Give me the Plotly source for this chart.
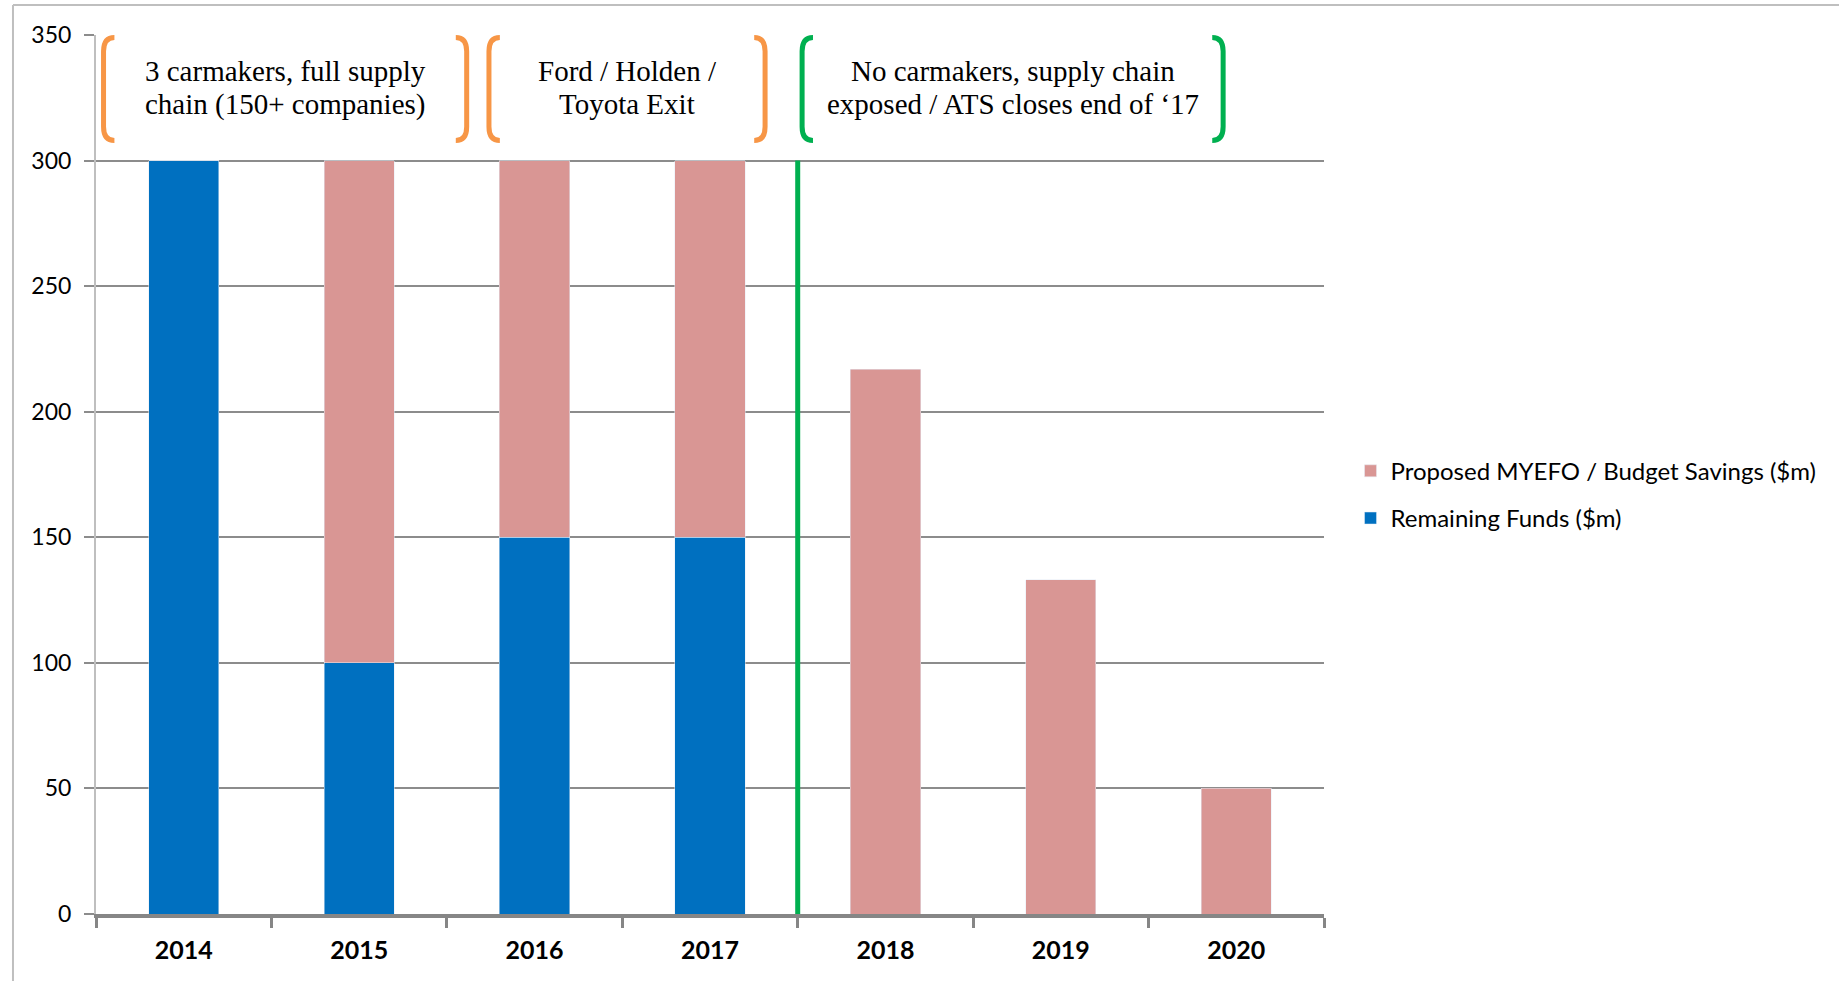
import plotly.graph_objects as go

years = ["2014", "2015", "2016", "2017", "2018", "2019", "2020"]
remaining = [300, 100, 150, 150, 0, 0, 0]
proposed = [0, 200, 150, 150, 217, 133, 50]
series_names = ["Remaining Funds ($m)", "Proposed MYEFO / Budget Savings ($m)"]
colors = ["#0070C0", "#D99694"]

# annotation boxes: (left x, right x, label lines, colour)
brackets = [
    (-0.457, 1.613, ["3 carmakers, full supply", "chain (150+ companies)"], "#F79646"),
    (1.74, 3.314, ["Ford / Holden /", "Toyota Exit"], "#F79646"),
    (3.525, 5.925, ["No carmakers, supply chain", "exposed / ATS closes end of \u201817"], "#00B050"),
]
bracket_y = (308, 349)
label_line_y = (335.5, 322.4)
divider_x = 3.5
divider_top = 300

fig = go.Figure()
fig.add_trace(go.Bar(x=years, y=remaining, name=series_names[0], marker_color=colors[0],
                     width=0.4, legendgroup="a", legendrank=2))
fig.add_trace(go.Bar(x=years, y=proposed, name=series_names[1], marker_color=colors[1],
                     width=0.4, legendgroup="b", legendrank=1))

shapes = []
dx, dy = 0.062, 5.5
y0, y1 = bracket_y
for xl, xr, lines, col in brackets:
    for x, s in ((xl, 1), (xr, -1)):
        path = (f"M {x + s*dx},{y1} Q {x},{y1} {x},{y1 - dy} L {x},{y0 + dy} "
                f"Q {x},{y0} {x + s*dx},{y0}")
        shapes.append(dict(type="path", path=path, xref="x", yref="y",
                           line=dict(color=col, width=5)))
    for line, ly in zip(lines, label_line_y):
        fig.add_annotation(x=(xl + xr) / 2, y=ly, xref="x", yref="y",
                           text=line, showarrow=False,
                           font=dict(family="Liberation Serif, serif", size=29, color="#000000"))

shapes.append(dict(type="line", xref="x", yref="y", x0=divider_x, x1=divider_x, y0=0, y1=divider_top,
                   line=dict(color="#00B050", width=5)))
# outer chart border (top and left visible)
shapes.append(dict(type="line", xref="paper", yref="paper", x0=-0.0676, x1=1.5, y0=1.034, y1=1.034,
                   line=dict(color="#BFBFBF", width=2)))
shapes.append(dict(type="line", xref="paper", yref="paper", x0=-0.0676, x1=-0.0676, y0=1.034, y1=-0.2,
                   line=dict(color="#BFBFBF", width=2)))

fig.update_layout(
    width=1839, height=981,
    margin=dict(l=96, r=515, t=35, b=67),
    barmode="stack",
    plot_bgcolor="white", paper_bgcolor="white",
    shapes=shapes,
    legend=dict(x=1.0216, y=0.477, xanchor="left", yanchor="middle", traceorder="grouped",
                font=dict(family="Lato, sans-serif", size=24, color="#000000"),
                tracegroupgap=13, itemwidth=30),
    xaxis=dict(type="category", tickson="boundaries", ticks="outside", ticklen=10, tickwidth=3,
               tickcolor="#868686", showline=True, linecolor="#868686", linewidth=4,
               tickfont=dict(family="Lato, sans-serif", size=25, color="#000000", weight="bold"),
               ticklabelstandoff=11, showgrid=False),
    yaxis=dict(range=[0, 350], dtick=50, showgrid=True, gridcolor="#8C8C8C", gridwidth=1.5,
               ticks="outside", ticklen=10, tickcolor="#8C8C8C", tickwidth=1.5,
               showline=True, linecolor="#BFBFBF", linewidth=2, zeroline=False,
               tickfont=dict(family="Lato, sans-serif", size=23, color="#000000"),
               ticklabelstandoff=8),
)

fig.write_html("out.html")
